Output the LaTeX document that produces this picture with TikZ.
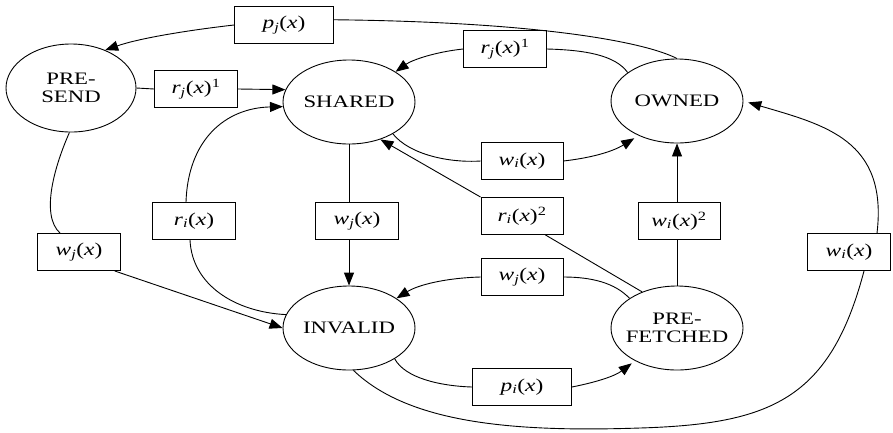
\documentclass[tikz,border=0pt]{standalone}
\usepackage{fontspec}
\setmainfont{Liberation Serif}[FakeStretch=1.3]
\usetikzlibrary{arrows.meta,shapes.geometric,calc}
\newcommand{\lbl}[2]{\textit{#1}\textsubscript{\textit{#2}}(\textit{x})}
\newcommand{\zb}[1]{\makebox[0pt][c]{#1}}
\begin{document}
\begin{tikzpicture}[x=1pt,y=-1pt,line width=0.9pt,
  state/.style={ellipse,draw,minimum width=132pt,minimum height=84pt,inner sep=0pt,align=center,
    font=\fontsize{17.5}{17.5}\selectfont},
  lab/.style={rectangle,draw,fill=white,minimum width=83pt,minimum height=37pt,inner sep=0pt,
    font=\fontsize{18}{18}\selectfont},
  arr/.style={-{Triangle[length=13pt,width=10pt]}},
]
\useasboundingbox (0,0) rectangle (893,432);

% states
\node[state,minimum width=130pt,minimum height=88pt] (ps) at (71,88) {\zb{PRE-}\\\zb{SEND}};
\node[state] (sh) at (349,102) {\zb{SHARED}};
\node[state] (ow) at (677,101) {\zb{OWNED}};
\node[state] (in) at (349,328) {\zb{INVALID}};
\node[state] (pf) at (677,328) {\zb{PRE-}\\\zb{FETCHED}};

% labels
\node[lab,minimum width=99pt] (bpj) at (284,25) {\raisebox{-1.5pt}{\lbl{p}{j}}};
\node[lab] (brj1) at (196,89) {\raisebox{-1.5pt}{\lbl{r}{j}\textsuperscript{1}}};
\node[lab] (brj2) at (505,49) {\raisebox{-1.5pt}{\lbl{r}{j}\textsuperscript{1}}};
\node[lab,minimum width=82pt] (bwi1) at (522,161) {\raisebox{-1.5pt}{\lbl{w}{i}}};
\node[lab,minimum width=82pt] (bri2) at (522,216) {\raisebox{-1.5pt}{\lbl{r}{i}\textsuperscript{2}}};
\node[lab,minimum width=82pt] (bwi2) at (679,221) {\raisebox{-1.5pt}{\lbl{w}{i}\textsuperscript{2}}};
\node[lab] (bri) at (194,221) {\raisebox{-1.5pt}{\lbl{r}{i}}};
\node[lab] (bwj1) at (357,221) {\raisebox{-1.5pt}{\lbl{w}{j}}};
\node[lab] (bwj2) at (79,252) {\raisebox{-1.5pt}{\lbl{w}{j}}};
\node[lab,minimum width=82pt] (bwj3) at (522,277) {\raisebox{-1.5pt}{\lbl{w}{j}}};
\node[lab,minimum width=99pt] (bpi) at (522,387) {\raisebox{-1.5pt}{\lbl{p}{i}}};
\node[lab] (bwi3) at (849,252) {\raisebox{-1.5pt}{\lbl{w}{i}}};

% OWNED -> PRE-SEND via p_j(x)
\draw (ow.north) .. controls (645,42) and (540,22) .. (bpj.6);
\draw[arr] (bpj.west) .. controls (190,30) and (140,38) .. (ps.48);

% PRE-SEND -> SHARED via r_j(x)^1
\draw (ps.east) -- (brj1.west);
\draw[arr] (brj1.east) -- (sh.169);

% OWNED -> SHARED via r_j(x)^1
\draw (ow.150) .. controls (615,55) and (585,50) .. (brj2.east);
\draw[arr] (brj2.west) .. controls (435,52) and (412,60) .. (sh.33);

% SHARED -> OWNED via w_i(x)
\draw (sh.-36) .. controls (410,155) and (450,163) .. (bwi1.west);
\draw[arr,shorten >=5pt] (bwi1.east) .. controls (590,158) and (612,152) .. (ow.222);

% PRE-FETCHED -> SHARED via r_i(x)^2
\draw (pf.134) -- ($(bri2.south east)+(-18,0)$);
\draw[arr] (bri2.north west) -- (sh.-50);

% PRE-FETCHED -> OWNED via w_i(x)^2
\draw (pf.north) -- (pf.north |- bwi2.south);
\draw[arr] (ow.south |- bwi2.north) -- (ow.south);

% SHARED -> INVALID via w_j(x)
\draw (sh.south) -- (sh.south |- bwj1.north);
\draw[arr] (in.north |- bwj1.south) -- (in.north);

% INVALID -> SHARED via r_i(x)
\draw (in.168) .. controls (235,312) and (192,285) .. ($(bri.south)+(-4,0)$);
\draw[arr] ($(bri.north)+(-8,0)$) .. controls (188,140) and (225,108) .. (sh.184);

% PRE-SEND -> INVALID via w_j(x)
\draw (ps.268) .. controls (55,165) and (40,215) .. (bwj2.135);
\draw[arr] (bwj2.-28) -- (in.180);

% PRE-FETCHED -> INVALID via w_j(x)
\draw (pf.148) .. controls (615,283) and (592,277) .. (bwj3.east);
\draw[arr] (bwj3.west) .. controls (445,278) and (418,285) .. (in.32);

% INVALID -> PRE-FETCHED via p_i(x)
\draw (in.-34) .. controls (405,378) and (440,386) .. (bpi.west);
\draw[arr,shorten >=4pt] (bpi.east) .. controls (597,382) and (615,376) .. (pf.218);

% INVALID -> OWNED via w_i(x)
\draw (in.-84) .. controls (410,425) and (520,432) .. (640,428)
      .. controls (770,424) and (830,400) .. ($(bwi3.south)+(15,0)$);
\draw[arr,shorten >=5pt] ($(bwi3.north)+(28,0)$) .. controls (888,140) and (825,125) .. (ow.east);
\end{tikzpicture}
\end{document}
